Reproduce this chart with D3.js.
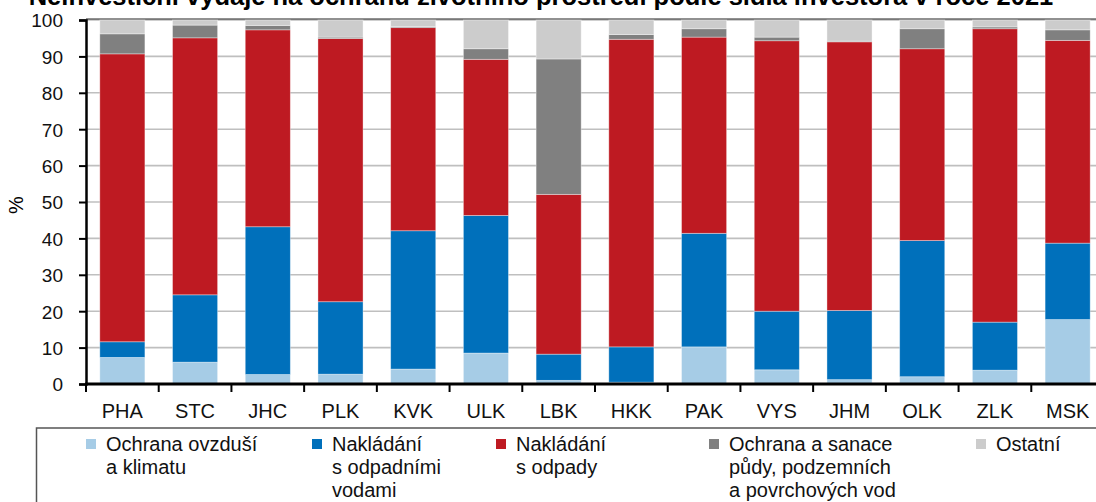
<!DOCTYPE html>
<html lang="cs">
<head>
<meta charset="UTF-8">
<title>Neinvestiční výdaje na ochranu životního prostředí</title>
<script src="https://d3js.org/d3.v7.min.js"></script>
<style>
  body { margin: 0; background: #fff; }
  svg { display: block; font-family: "Liberation Sans", Arial, sans-serif; }
</style>
</head>
<body>
<script>
const regions = ['PHA', 'STC', 'JHC', 'PLK', 'KVK', 'ULK', 'LBK', 'HKK', 'PAK', 'VYS', 'JHM', 'OLK', 'ZLK', 'MSK'];

// shares in % per region, bottom to top
const ovzdusi    = [7.3, 6.0, 2.6, 2.7, 4.1, 8.5, 1.0, 0.5, 10.2, 3.9, 1.2, 2.0, 3.8, 17.7];
const odpadVody  = [4.3, 18.5, 40.6, 19.9, 38.0, 37.8, 7.2, 9.7, 31.2, 16.1, 19.0, 37.4, 13.2, 21.0];
const odpady     = [79.1, 70.6, 54.1, 72.3, 55.8, 42.9, 43.9, 84.5, 53.9, 74.3, 73.8, 52.7, 80.6, 55.7];
const pudy       = [5.5, 3.5, 1.2, 0.4, 0.3, 2.9, 37.2, 1.3, 2.3, 1.0, 0.2, 5.5, 0.5, 2.9];
const ostatni    = [3.8, 1.4, 1.5, 4.7, 1.8, 7.9, 10.7, 4.0, 2.4, 4.7, 5.8, 2.4, 1.9, 2.7];

const seriesNames = [
  ['Ochrana ovzduší', 'a klimatu'],
  ['Nakládání', 's odpadními', 'vodami'],
  ['Nakládání', 's odpady'],
  ['Ochrana a sanace', 'půdy, podzemních', 'a povrchových vod'],
  ['Ostatní']
];
const colors = ['#a6cce6', '#0070bb', '#be1a22', '#808080', '#cccccc'];
const yTicks = [0, 10, 20, 30, 40, 50, 60, 70, 80, 90, 100];

const width = 1096, height = 502;
const svg = d3.select('body').append('svg')
  .attr('width', width)
  .attr('height', height);

const x = d3.scaleBand()
  .domain(regions)
  .range([86, 1104])
  .paddingInner(0.38)
  .paddingOuter(0.19);

const y = d3.scaleLinear()
  .domain([0, 100])
  .range([384, 20]);

// title (cut off at the top, as in the original)
svg.append('text')
  .attr('x', 541)
  .attr('y', 5)
  .attr('text-anchor', 'middle')
  .style('font-size', '25.5px')
  .style('font-weight', 'bold')
  .text('Neinvestiční výdaje na ochranu životního prostředí podle sídla investora v roce 2021');

// gridlines
svg.append('g')
  .selectAll('line')
  .data(yTicks.filter(d => d > 0))
  .join('line')
  .attr('x1', 86).attr('x2', width)
  .attr('y1', d => y(d)).attr('y2', d => y(d))
  .attr('stroke', '#bfbfbf')
  .attr('stroke-width', 1.6);

svg.append('line')
  .attr('x1', 86).attr('x2', width)
  .attr('y1', y(100) - 1).attr('y2', y(100) - 1)
  .attr('stroke', '#222')
  .attr('stroke-width', 1);

// stacked bars
const table = regions.map((r, i) => ({
  region: r, a: ovzdusi[i], b: odpadVody[i], c: odpady[i], d: pudy[i], e: ostatni[i]
}));
const keys = ['a', 'b', 'c', 'd', 'e'];
const stack = d3.stack().keys(keys)(table);

svg.append('g')
  .selectAll('g')
  .data(stack)
  .join('g')
  .attr('fill', (d, i) => colors[i])
  .selectAll('rect')
  .data(d => d)
  .join('rect')
  .attr('x', d => x(d.data.region))
  .attr('width', x.bandwidth())
  .attr('y', d => y(Math.min(d[1], 100)))
  .attr('height', d => y(d[0]) - y(Math.min(d[1], 100)))
  .attr('stroke', 'rgba(255,255,255,0.45)')
  .attr('stroke-width', 0.8);

// y axis
const yAxis = svg.append('g')
  .attr('transform', 'translate(86,0)')
  .call(d3.axisLeft(y).tickValues(yTicks).tickSize(7).tickPadding(16));
yAxis.select('.domain').attr('stroke', '#000').attr('stroke-width', 2.5);
yAxis.selectAll('.tick line').attr('stroke', '#000').attr('stroke-width', 2);
yAxis.selectAll('.tick text')
  .attr('fill', '#111')
  .attr('dy', '0.36em')
  .style('font-size', '19px')
  .style('font-family', '"Liberation Sans", Arial, sans-serif');

svg.append('text')
  .attr('transform', 'translate(23,205) rotate(-90)')
  .attr('text-anchor', 'middle')
  .style('font-size', '20px')
  .text('%');

// x axis: ticks at band boundaries
const bounds = regions.map(r => x(r) - x.step() * x.paddingInner() / 2);
svg.append('g')
  .selectAll('line')
  .data(bounds)
  .join('line')
  .attr('x1', d => d).attr('x2', d => d)
  .attr('y1', 384).attr('y2', 392)
  .attr('stroke', '#000')
  .attr('stroke-width', 2);

svg.append('line')
  .attr('x1', 85).attr('x2', width)
  .attr('y1', 384).attr('y2', 384)
  .attr('stroke', '#000')
  .attr('stroke-width', 3);

svg.append('g')
  .selectAll('text')
  .data(regions)
  .join('text')
  .attr('x', d => x(d) + x.bandwidth() / 2)
  .attr('y', 418)
  .attr('text-anchor', 'middle')
  .style('font-size', '20px')
  .attr('fill', '#111')
  .text(d => d);

// legend
svg.append('rect')
  .attr('x', 36.5).attr('y', 428)
  .attr('width', 1100).attr('height', 100)
  .attr('fill', 'none')
  .attr('stroke', '#555')
  .attr('stroke-width', 1.5);

const legendX = [86, 312, 496, 709, 976];
const legend = svg.append('g')
  .selectAll('g')
  .data(seriesNames)
  .join('g')
  .attr('transform', (d, i) => `translate(${legendX[i]},0)`);

legend.append('rect')
  .attr('x', 0).attr('y', 439)
  .attr('width', 10).attr('height', 10)
  .attr('fill', (d, i) => colors[i]);

legend.append('text')
  .attr('x', 20)
  .attr('y', 451)
  .style('font-size', '20px')
  .attr('fill', '#111')
  .selectAll('tspan')
  .data(d => d)
  .join('tspan')
  .attr('x', 20)
  .attr('dy', (d, i) => i === 0 ? 0 : 23)
  .text(d => d);
</script>
</body>
</html>
